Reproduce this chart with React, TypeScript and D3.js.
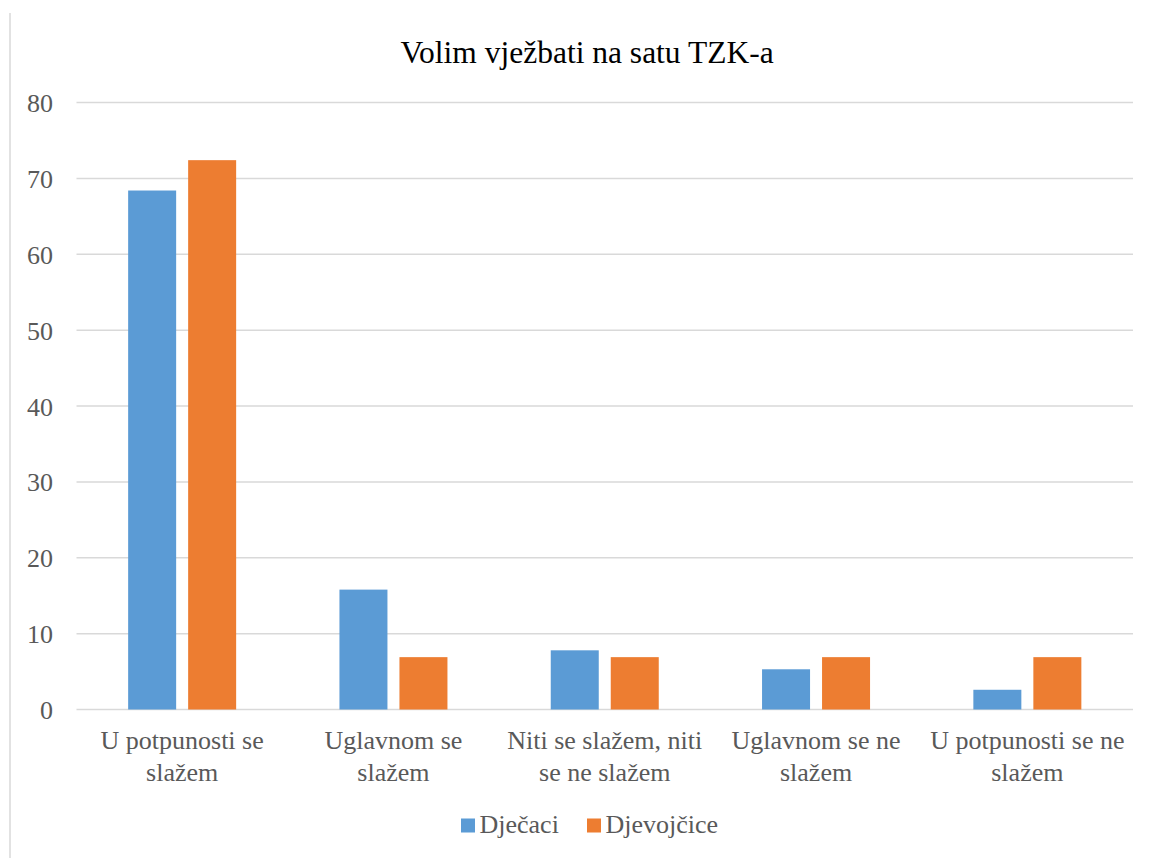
import React from "react";
import * as d3 from "d3";

const categories = [
  ["U potpunosti se", "slažem"],
  ["Uglavnom se", "slažem"],
  ["Niti se slažem, niti", "se ne slažem"],
  ["Uglavnom se ne", "slažem"],
  ["U potpunosti se ne", "slažem"],
];
const seriesNames = ["Dječaci", "Djevojčice"];
const djecaci = [68.4, 15.8, 7.8, 5.3, 2.6];
const djevojcice = [72.4, 6.9, 6.9, 6.9, 6.9];
const yTicks = [0, 10, 20, 30, 40, 50, 60, 70, 80];
const colors = ["#5b9bd5", "#ed7d31"];

const W = 1149;
const H = 858;
const left = 76.5;
const right = 1133;
const top = 102.5;
const bottom = 709.5;
const font = "Liberation Serif, Tinos, Times New Roman, DejaVu Serif, serif";

export default function App() {
  const x = d3
    .scaleBand<number>()
    .domain(d3.range(categories.length))
    .range([left, right])
    .padding(0);
  const y = d3.scaleLinear().domain([0, 80]).range([bottom, top]);
  const band = x.bandwidth();
  const barW = (band * 48) / 211.3;
  const gap = (band * 12) / 211.3;
  const series = [djecaci, djevojcice];

  return (
    <div style={{ position: "absolute", left: 0, top: 0 }}>
      <svg width={W} height={H} style={{ display: "block", fontFamily: font }}>
        <rect x={0} y={0} width={W} height={H} fill="#fff" />
        <line x1={10} x2={10} y1={13} y2={H} stroke="#d9d9d9" strokeWidth={1.5} />
        <text
          x={587}
          y={63}
          textAnchor="middle"
          style={{ fontFamily: font }}
          fontSize={31.5}
          fill="#000"
        >
          Volim vježbati na satu TZK-a
        </text>
        {yTicks.map((t) => (
          <g key={t}>
            <line
              x1={left}
              x2={right}
              y1={y(t)}
              y2={y(t)}
              stroke="#d9d9d9"
              strokeWidth={1.5}
            />
            <text
              x={53}
              y={y(t) + 9.5}
              textAnchor="end"
              style={{ fontFamily: font }}
              fontSize={26}
              fill="#595959"
            >
              {t}
            </text>
          </g>
        ))}
        {categories.map((c, i) => {
          const cx = (x(i) as number) + band / 2;
          return (
            <g key={i}>
              {series.map((s, j) => {
                const bx = j === 0 ? cx - gap / 2 - barW : cx + gap / 2;
                return (
                  <rect
                    key={j}
                    x={bx}
                    y={y(s[i])}
                    width={barW}
                    height={y(0) - y(s[i])}
                    fill={colors[j]}
                  />
                );
              })}
              {c.map((line, k) => (
                <text
                  key={k}
                  x={cx}
                  y={748.5 + k * 32.5}
                  textAnchor="middle"
                  style={{ fontFamily: font }}
                  fontSize={26}
                  fill="#595959"
                >
                  {line}
                </text>
              ))}
            </g>
          );
        })}
        {seriesNames.map((n, j) => {
          const lx = j === 0 ? 461 : 587;
          return (
            <g key={n}>
              <rect x={lx} y={818.5} width={14} height={14} fill={colors[j]} />
              <text
                x={lx + 18.5}
                y={832.5}
                style={{ fontFamily: font }}
                fontSize={26}
                fill="#595959"
              >
                {n}
              </text>
            </g>
          );
        })}
      </svg>
    </div>
  );
}
